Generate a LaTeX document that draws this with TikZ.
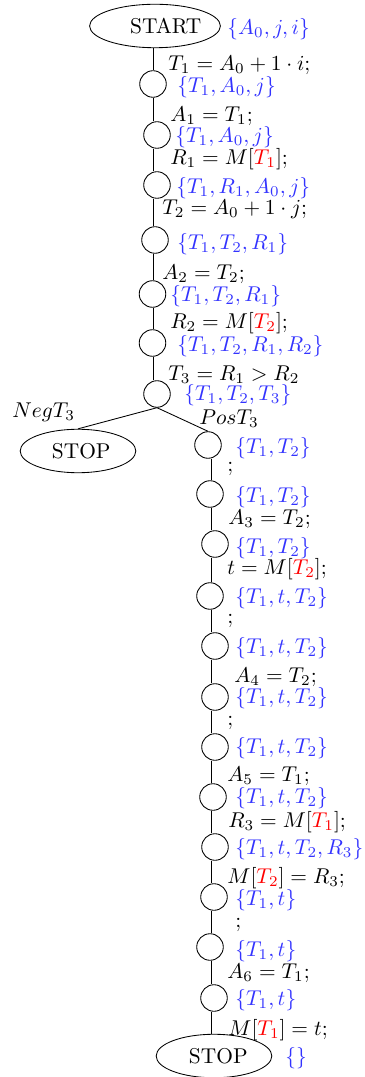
\documentclass[tikz,border=0pt]{standalone}
\usepackage{amsmath,amssymb}
\usepackage{xcolor}
\usepackage{tikz}
\usetikzlibrary{shapes.geometric,calc}
\newcommand{\memaddr}[1]{\textcolor{red}{#1}}
\tikzset{
  point/.style={
    shape = circle,
    draw,
    fill = white,
    inner sep = 0,
    minimum size = 12.4pt
  },
  terminal/.style={
    shape = ellipse,
    draw,
    inner sep = 0,
    minimum width = 54pt,
    minimum height = 20.3pt
  },
  instr/.style={
    anchor = west,
    inner sep = 0
  },
  liveset/.style={
    anchor = west,
    inner sep = 0,
    text = blue!80
  }
}

\begin{document}
\begin{tikzpicture}[x=0.467pt,y=-0.467pt]
        \useasboundingbox (0,0) rectangle (364,1077);
        \coordinate (trunkL) at (153.5,0);
        \coordinate (trunkR) at (211.5,0);
        % left trunk
        \node[terminal] (start) at (155,26) {\hspace*{10pt}START};
        \node[point] (c1) at (153,84) {};
        \node[point] (c2) at (157,135) {};
        \node[point] (c3) at (157,185) {};
        \node[point] (c4) at (155,240) {};
        \node[point] (c5) at (152.5,294) {};
        \node[point] (c6) at (152.5,343) {};
        \node[point] (c7) at (157,394) {};
        \node[terminal] (stopL) at (78,451) {\hspace*{3pt}STOP};
        % right trunk
        \node[point] (c8) at (208,445) {};
        \node[point] (c9) at (210,494) {};
        \node[point] (c10) at (215,544) {};
        \node[point] (c11) at (210,596) {};
        \node[point] (c12) at (215,646) {};
        \node[point] (c13) at (215,697) {};
        \node[point] (c14) at (215,747) {};
        \node[point] (c15) at (213,797) {};
        \node[point] (c16) at (215,847) {};
        \node[point] (c17) at (214,897) {};
        \node[point] (c18) at (210,947) {};
        \node[point] (c19) at (214,998) {};
        \node[terminal] (stopB) at (214,1056) {\hspace*{4pt}STOP};

        \draw (start.south -| trunkL) -- (c1.north -| trunkL);
        \draw (c1.south -| trunkL) -- (c2.north -| trunkL);
        \draw (c2.south -| trunkL) -- (c3.north -| trunkL);
        \draw (c3.south -| trunkL) -- (c4.north -| trunkL);
        \draw (c4.south -| trunkL) -- (c5.north -| trunkL);
        \draw (c5.south -| trunkL) -- (c6.north -| trunkL);
        \draw (c6.south -| trunkL) -- (c7.north -| trunkL);
        \draw (c7.south) -- (stopL.north);
        \draw (c7.south) -- (c8.north);
        \draw (c8.south -| trunkR) -- (c9.north -| trunkR);
        \draw (c9.south -| trunkR) -- (c10.north -| trunkR);
        \draw (c10.south -| trunkR) -- (c11.north -| trunkR);
        \draw (c11.south -| trunkR) -- (c12.north -| trunkR);
        \draw (c12.south -| trunkR) -- (c13.north -| trunkR);
        \draw (c13.south -| trunkR) -- (c14.north -| trunkR);
        \draw (c14.south -| trunkR) -- (c15.north -| trunkR);
        \draw (c15.south -| trunkR) -- (c16.north -| trunkR);
        \draw (c16.south -| trunkR) -- (c17.north -| trunkR);
        \draw (c17.south -| trunkR) -- (c18.north -| trunkR);
        \draw (c18.south -| trunkR) -- (c19.north -| trunkR);
        \draw (c19.south -| trunkR) -- (stopB.north -| trunkR);

        % statements
        \node[instr] (s1) at (168,65) {$T_1 = A_0 + 1 \cdot i;$};
        \node[instr] (s2) at (170,116) {$A_1 = T_1;$};
        \node[instr] (s3) at (170,159) {$R_1 = M[\memaddr{T_1}];$};
        \node[instr] (s4) at (162,209) {$T_2 = A_0 + 1 \cdot j;$};
        \node[instr] (s5) at (162,274) {$A_2 = T_2;$};
        \node[instr] (s6) at (170,323) {$R_2 = M[\memaddr{T_2}];$};
        \node[instr] (s7) at (168,375) {$T_3 = R_1 > R_2$};
        \node[instr] (neg) at (12,412) {$Neg T_3$};
        \node[instr] (pos) at (199,419) {$Pos T_3$};
        \node[instr] (s9) at (227,469) {$;$};
        \node[instr] (s10) at (228,519) {$A_3 = T_2;$};
        \node[instr] (s11) at (227,569) {$t = M[\memaddr{T_2}];$};
        \node[instr] (s12) at (227,621) {$;$};
        \node[instr] (s13) at (234,677) {$A_4 = T_2;$};
        \node[instr] (s14) at (227,723) {$;$};
        \node[instr] (s15) at (227,776) {$A_5 = T_1;$};
        \node[instr] (s16) at (228,822) {$R_3 = M[\memaddr{T_1}];$};
        \node[instr] (s17) at (227,878) {$M[\memaddr{T_2}] = R_3;$};
        \node[instr] (s18) at (235,925) {$;$};
        \node[instr] (s19) at (227,973) {$A_6 = T_1;$};
        \node[instr] (s20) at (228,1030) {$M[\memaddr{T_1}] = t;$};

        % live sets
        \node[liveset] (setS) at (227,29) {$\{A_0, j, i\}$};
        \node[liveset] (set1) at (177,87) {$\{T_1, A_0, j\}$};
        \node[liveset] (set2) at (175,137) {$\{T_1, A_0, j\}$};
        \node[liveset] (set3) at (176,188) {$\{T_1, R_1, A_0, j\}$};
        \node[liveset] (set4) at (177,244) {$\{T_1, T_2, R_1\}$};
        \node[liveset] (set5) at (170,296) {$\{T_1, T_2, R_1\}$};
        \node[liveset] (set6) at (177,346) {$\{T_1, T_2, R_1, R_2\}$};
        \node[liveset] (set7) at (184,395) {$\{T_1, T_2, T_3\}$};
        \node[liveset] (set8) at (235,448) {$\{T_1, T_2\}$};
        \node[liveset] (set9) at (235,497) {$\{T_1, T_2\}$};
        \node[liveset] (set10) at (235,548) {$\{T_1, T_2\}$};
        \node[liveset] (set11) at (235,598) {$\{T_1, t, T_2\}$};
        \node[liveset] (set12) at (235,648) {$\{T_1, t, T_2\}$};
        \node[liveset] (set13) at (235,698) {$\{T_1, t, T_2\}$};
        \node[liveset] (set14) at (235,748) {$\{T_1, t, T_2\}$};
        \node[liveset] (set15) at (235,798) {$\{T_1, t, T_2\}$};
        \node[liveset] (set16) at (235,849) {$\{T_1, t, T_2, R_3\}$};
        \node[liveset] (set17) at (235,900) {$\{T_1, t\}$};
        \node[liveset] (set18) at (235,951) {$\{T_1, t\}$};
        \node[liveset] (set19) at (235,1000) {$\{T_1, t\}$};
        \node[liveset] (setE) at (285,1058) {$\{\}$};
    \end{tikzpicture}
\end{document}
